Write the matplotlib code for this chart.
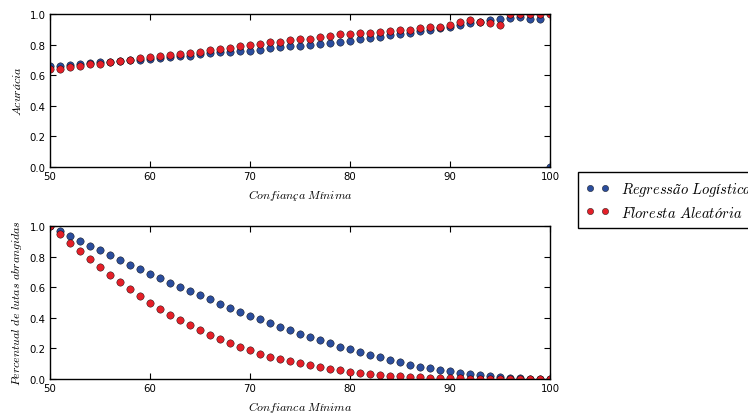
import matplotlib
matplotlib.use("Agg")
import matplotlib.pyplot as plt
import numpy as np

# Confidence thresholds (x axis)
confianca = list(range(50, 101))

# Accuracy per threshold
acc_logistica = [0.657, 0.662, 0.666, 0.673, 0.680, 0.684, 0.688, 0.692, 0.700, 0.700,
                 0.707, 0.711, 0.717, 0.723, 0.727, 0.736, 0.742, 0.749, 0.753, 0.757,
                 0.760, 0.766, 0.775, 0.783, 0.788, 0.794, 0.797, 0.803, 0.810, 0.818,
                 0.825, 0.834, 0.845, 0.851, 0.862, 0.869, 0.878, 0.886, 0.895, 0.906,
                 0.917, 0.930, 0.938, 0.947, 0.958, 0.965, 0.973, 0.978, 0.970, 0.970,
                 0.000]
acc_floresta = [0.638, 0.643, 0.653, 0.660, 0.670, 0.675, 0.688, 0.692, 0.700, 0.710,
                0.717, 0.725, 0.730, 0.738, 0.745, 0.753, 0.766, 0.773, 0.779, 0.788,
                0.797, 0.805, 0.814, 0.820, 0.827, 0.836, 0.836, 0.850, 0.857, 0.868,
                0.872, 0.877, 0.877, 0.883, 0.890, 0.895, 0.897, 0.906, 0.914, 0.916,
                0.927, 0.949, 0.960, 0.947, 0.938, 0.930, 1.000, 1.000, 1.000, 1.000,
                1.000]

# Share of fights covered per threshold
cob_logistica = [1.000, 0.967, 0.934, 0.904, 0.871, 0.841, 0.810, 0.779, 0.747, 0.716,
                 0.688, 0.657, 0.629, 0.600, 0.572, 0.546, 0.520, 0.491, 0.463, 0.437,
                 0.413, 0.389, 0.365, 0.341, 0.319, 0.297, 0.275, 0.253, 0.234, 0.212,
                 0.194, 0.177, 0.157, 0.142, 0.124, 0.109, 0.094, 0.081, 0.070, 0.059,
                 0.050, 0.041, 0.031, 0.024, 0.017, 0.013, 0.009, 0.004, 0.002, 0.002,
                 0.000]
cob_floresta = [1.000, 0.945, 0.891, 0.836, 0.782, 0.729, 0.681, 0.631, 0.585, 0.541,
                0.498, 0.459, 0.419, 0.384, 0.352, 0.319, 0.288, 0.262, 0.234, 0.210,
                0.188, 0.166, 0.146, 0.131, 0.116, 0.105, 0.090, 0.079, 0.066, 0.057,
                0.048, 0.039, 0.031, 0.026, 0.022, 0.017, 0.013, 0.011, 0.009, 0.007,
                0.004, 0.004, 0.002, 0.002, 0.001, 0.000, 0.000, 0.000, 0.000, 0.000,
                0.000]

AZUL = "#2b4d9c"
VERMELHO = "#e41f28"

plt.rcParams["mathtext.fontset"] = "cm"
plt.rcParams["font.size"] = 7.3

fig = plt.figure(figsize=(7.48, 4.14), dpi=100, facecolor="white")
ax1 = fig.add_axes([50 / 748, 1 - 168 / 414, 500 / 748, 153 / 414])
ax2 = fig.add_axes([50 / 748, 1 - 380 / 414, 500 / 748, 153 / 414])

estilo = dict(linestyle="none", marker="o", markersize=5.3, markeredgecolor="black",
              markeredgewidth=0.3)

l1, = ax1.plot(confianca, acc_logistica, color=AZUL, label=r"$Regressão\ Logística$", **estilo)
l2, = ax1.plot(confianca, acc_floresta, color=VERMELHO, label=r"$Floresta\ Aleatória$", **estilo)
ax1.set_ylabel(r"$Acurácia$", fontsize=8.6)
ax1.set_xlabel(r"$Confiança\ Mínima$", fontsize=8.6)

ax2.plot(confianca, cob_logistica, color=AZUL, **estilo)
ax2.plot(confianca, cob_floresta, color=VERMELHO, **estilo)
ax2.set_ylabel(r"$Percentual\ de\ lutas\ abrangidas$", fontsize=8.6)
ax2.set_xlabel(r"$Confianca\ Mínima$", fontsize=8.6)

for ax in (ax1, ax2):
    ax.set_xlim(50, 100)
    ax.set_ylim(0, 1)
    ax.set_xticks(np.arange(50, 101, 10))
    ax.set_yticks(np.arange(0, 1.01, 0.2))
    ax.tick_params(direction="in", top=True, right=True, length=4, width=0.8, pad=3)
    for s in ax.spines.values():
        s.set_linewidth(1.0)

fig.legend(handles=[l1, l2], loc="upper left", bbox_to_anchor=(578 / 748, 1 - 173 / 414),
           numpoints=2, fontsize=10.5, fancybox=False, edgecolor="black",
           framealpha=1, borderaxespad=0, handlelength=1.6, markerscale=0.85,
           borderpad=0.55, labelspacing=0.45)

fig.savefig("out.png", dpi=100, facecolor="white")
